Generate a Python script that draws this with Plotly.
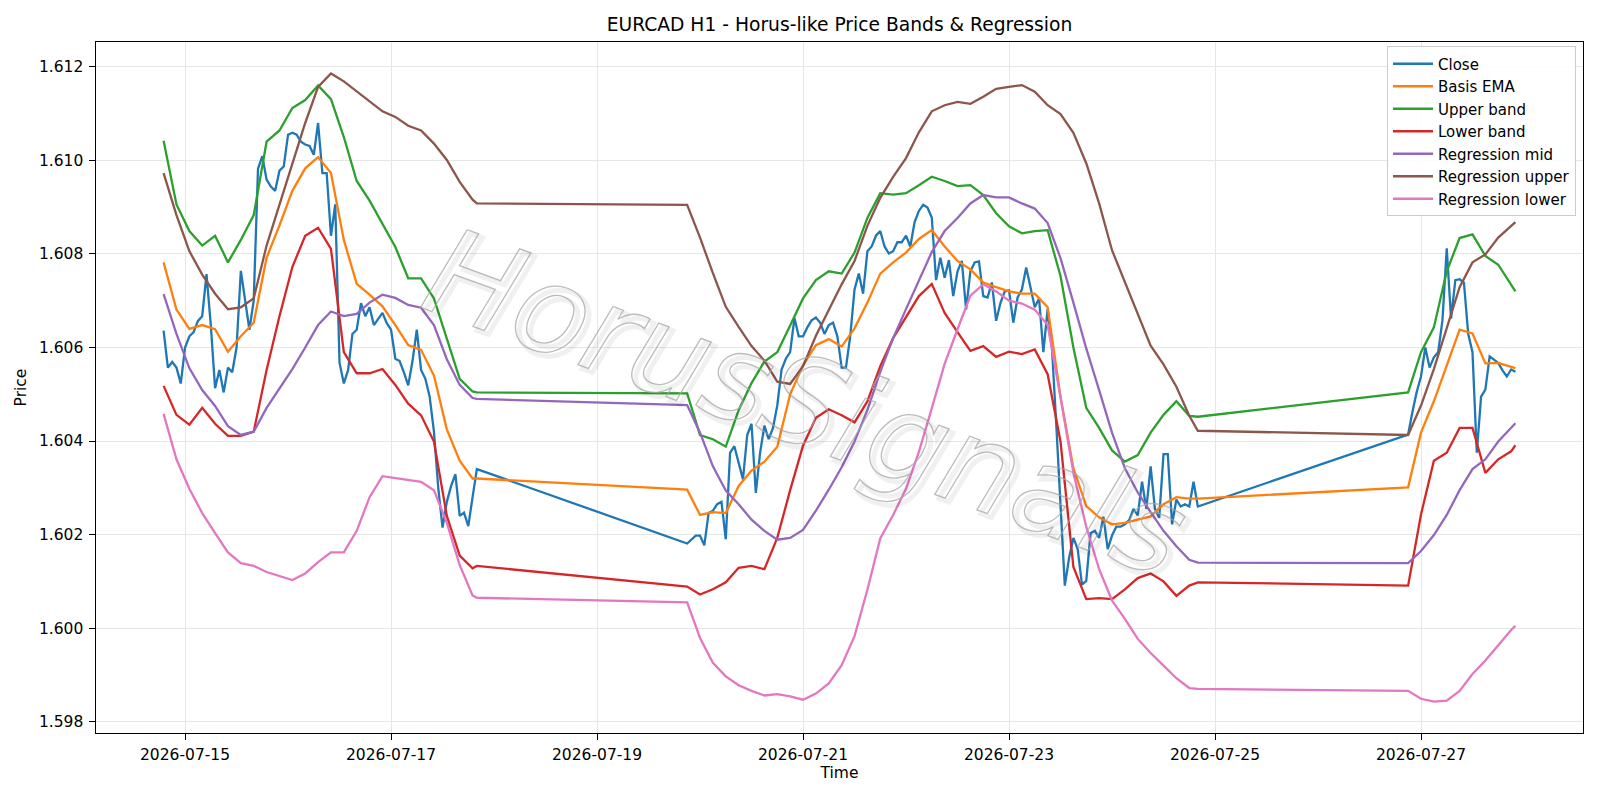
import pandas as pd
import plotly.graph_objects as go

# Trading sessions (hourly bars, weekend gaps between them)
SESSIONS = [("2026-07-14 19:00", "2026-07-17 20:00"),
            ("2026-07-19 21:00", "2026-07-24 20:00"),
            ("2026-07-26 21:00", "2026-07-27 22:00")]

# Hourly close prices (session 1, 2, 3 concatenated)
CLOSE = [
    # session 1
    1.60636, 1.60557, 1.60569, 1.60557, 1.60523, 1.60600, 1.60624, 1.60633, 1.60657, 1.60667,
    1.60757, 1.60648, 1.60513, 1.60552, 1.60504, 1.60557, 1.60547, 1.60600, 1.60764, 1.60695,
    1.60638, 1.60700, 1.60982, 1.61009, 1.60959, 1.60944, 1.60935, 1.60978, 1.60987, 1.61055,
    1.61059, 1.61055, 1.61040, 1.61034, 1.61031, 1.61012, 1.61080, 1.60973, 1.60973, 1.60839,
    1.60906, 1.60567, 1.60523, 1.60552, 1.60629, 1.60638, 1.60695, 1.60667, 1.60686, 1.60648,
    1.60662, 1.60674, 1.60652, 1.60638, 1.60576, 1.60571, 1.60547, 1.60519, 1.60571, 1.60638,
    1.60552, 1.60533, 1.60495, 1.60420, 1.60300, 1.60215, 1.60270, 1.60304, 1.60329, 1.60240,
    1.60247, 1.60218, 1.60280, 1.60340,
    # session 2
    1.60181, 1.60189, 1.60198, 1.60198, 1.60177, 1.60246, 1.60251, 1.60265, 1.60270, 1.60190,
    1.60375, 1.60389, 1.60351, 1.60318, 1.60413, 1.60437, 1.60289, 1.60375, 1.60433, 1.60404,
    1.60428, 1.60476, 1.60553, 1.60576, 1.60590, 1.60663, 1.60624, 1.60624, 1.60643, 1.60658,
    1.60664, 1.60653, 1.60629, 1.60648, 1.60653, 1.60624, 1.60557, 1.60557, 1.60624, 1.60724,
    1.60758, 1.60715, 1.60806, 1.60816, 1.60839, 1.60849, 1.60816, 1.60801, 1.60806, 1.60825,
    1.60825, 1.60839, 1.60816, 1.60868, 1.60892, 1.60905, 1.60899, 1.60878, 1.60744, 1.60792,
    1.60749, 1.60787, 1.60710, 1.60763, 1.60785, 1.60681, 1.60763, 1.60782, 1.60784, 1.60710,
    1.60707, 1.60739, 1.60657, 1.60695, 1.60720, 1.60722, 1.60653, 1.60707, 1.60724, 1.60771,
    1.60729, 1.60686, 1.60705, 1.60590, 1.60682, 1.60600, 1.60437, 1.60275, 1.60091, 1.60150,
    1.60193, 1.60169, 1.60093, 1.60101, 1.60203, 1.60208, 1.60193, 1.60238, 1.60169, 1.60198,
    1.60217, 1.60217, 1.60222, 1.60231, 1.60255, 1.60241, 1.60313, 1.60255, 1.60346, 1.60255,
    1.60236, 1.60372, 1.60372, 1.60222, 1.60275, 1.60260, 1.60265, 1.60260, 1.60313, 1.60260,
    # session 3
    1.60414, 1.60462, 1.60505, 1.60538, 1.60600, 1.60557, 1.60579, 1.60590, 1.60658, 1.60812,
    1.60662, 1.60744, 1.60746, 1.60739, 1.60629, 1.60590, 1.60375, 1.60495, 1.60510, 1.60581,
    1.60574, 1.60567, 1.60551, 1.60538, 1.60553, 1.60548,
]

# Indicator series, sampled every 3 hours within each session (plus session end)
BASIS_EMA = [
    1.60782, 1.60681, 1.60640, 1.60648, 1.60639, 1.60591, 1.60624, 1.60653, 1.60792, 1.60861,
    1.60935, 1.60983, 1.61007, 1.60973, 1.60830, 1.60736, 1.60713, 1.60688, 1.60648, 1.60605,
    1.60595, 1.60540, 1.60425, 1.60358, 1.60320, 1.60320,
    1.60296, 1.60242, 1.60248, 1.60246, 1.60304, 1.60337, 1.60356, 1.60388, 1.60500, 1.60562,
    1.60605, 1.60618, 1.60602, 1.60641, 1.60696, 1.60758, 1.60782, 1.60803, 1.60832, 1.60851,
    1.60816, 1.60785, 1.60767, 1.60739, 1.60729, 1.60720, 1.60715, 1.60715, 1.60686, 1.60495,
    1.60342, 1.60261, 1.60237, 1.60222, 1.60225, 1.60232, 1.60239, 1.60265, 1.60280, 1.60277,
    1.60277,
    1.60301, 1.60418, 1.60485, 1.60562, 1.60638, 1.60630, 1.60566, 1.60567, 1.60559, 1.60556,
]
UPPER_BAND = [
    1.61042, 1.60906, 1.60849, 1.60818, 1.60839, 1.60782, 1.60830, 1.60883, 1.61040, 1.61064,
    1.61112, 1.61129, 1.61160, 1.61131, 1.61050, 1.60956, 1.60914, 1.60866, 1.60815, 1.60748,
    1.60748, 1.60705, 1.60617, 1.60533, 1.60506, 1.60504,
    1.60502, 1.60413, 1.60404, 1.60388, 1.60466, 1.60524, 1.60570, 1.60590, 1.60647, 1.60705,
    1.60744, 1.60763, 1.60758, 1.60803, 1.60877, 1.60930, 1.60927, 1.60930, 1.60947, 1.60965,
    1.60956, 1.60945, 1.60947, 1.60926, 1.60887, 1.60859, 1.60844, 1.60849, 1.60851, 1.60753,
    1.60600, 1.60471, 1.60428, 1.60380, 1.60356, 1.60370, 1.60418, 1.60456, 1.60485, 1.60454,
    1.60452,
    1.60504, 1.60590, 1.60643, 1.60763, 1.60834, 1.60842, 1.60796, 1.60777, 1.60734, 1.60720,
]
LOWER_BAND = [
    1.60518, 1.60456, 1.60435, 1.60471, 1.60437, 1.60411, 1.60411, 1.60420, 1.60552, 1.60667,
    1.60772, 1.60839, 1.60856, 1.60811, 1.60590, 1.60545, 1.60545, 1.60554, 1.60520, 1.60480,
    1.60455, 1.60399, 1.60240, 1.60155, 1.60128, 1.60133,
    1.60089, 1.60072, 1.60083, 1.60098, 1.60129, 1.60133, 1.60126, 1.60193, 1.60295, 1.60390,
    1.60450, 1.60468, 1.60455, 1.60440, 1.60485, 1.60560, 1.60620, 1.60665, 1.60710, 1.60736,
    1.60674, 1.60633, 1.60593, 1.60603, 1.60580, 1.60591, 1.60586, 1.60596, 1.60543, 1.60399,
    1.60131, 1.60062, 1.60064, 1.60062, 1.60083, 1.60107, 1.60117, 1.60100, 1.60069, 1.60091,
    1.60098,
    1.60091, 1.60243, 1.60358, 1.60375, 1.60428, 1.60428, 1.60332, 1.60361, 1.60378, 1.60391,
]
REG_MID = [
    1.60714, 1.60629, 1.60556, 1.60509, 1.60475, 1.60432, 1.60413, 1.60420, 1.60471, 1.60512,
    1.60554, 1.60600, 1.60648, 1.60677, 1.60667, 1.60672, 1.60696, 1.60713, 1.60706, 1.60691,
    1.60685, 1.60648, 1.60575, 1.60520, 1.60492, 1.60490,
    1.60477, 1.60418, 1.60346, 1.60294, 1.60265, 1.60232, 1.60208, 1.60189, 1.60193, 1.60210,
    1.60251, 1.60296, 1.60344, 1.60399, 1.60466, 1.60548, 1.60620, 1.60682, 1.60744, 1.60804,
    1.60849, 1.60877, 1.60908, 1.60926, 1.60921, 1.60921, 1.60908, 1.60897, 1.60866, 1.60791,
    1.60696, 1.60598, 1.60509, 1.60418, 1.60342, 1.60290, 1.60248, 1.60208, 1.60175, 1.60146,
    1.60140,
    1.60139, 1.60165, 1.60199, 1.60242, 1.60295, 1.60340, 1.60361, 1.60399, 1.60428, 1.60438,
]
REG_UPPER = [
    1.60973, 1.60883, 1.60806, 1.60756, 1.60715, 1.60682, 1.60686, 1.60705, 1.60818, 1.60905,
    1.60997, 1.61080, 1.61157, 1.61186, 1.61169, 1.61147, 1.61126, 1.61105, 1.61093, 1.61074,
    1.61064, 1.61036, 1.61001, 1.60954, 1.60916, 1.60908,
    1.60905, 1.60835, 1.60759, 1.60687, 1.60644, 1.60603, 1.60572, 1.60527, 1.60522, 1.60560,
    1.60625, 1.60680, 1.60735, 1.60785, 1.60860, 1.60920, 1.60965, 1.61005, 1.61060, 1.61105,
    1.61118, 1.61125, 1.61121, 1.61136, 1.61153, 1.61157, 1.61161, 1.61147, 1.61118, 1.61099,
    1.61059, 1.60994, 1.60908, 1.60808, 1.60740, 1.60670, 1.60604, 1.60564, 1.60516, 1.60454,
    1.60422,
    1.60413, 1.60476, 1.60554, 1.60641, 1.60729, 1.60782, 1.60799, 1.60835, 1.60859, 1.60868,
]
REG_LOWER = [
    1.60458, 1.60361, 1.60298, 1.60246, 1.60203, 1.60162, 1.60139, 1.60133, 1.60120, 1.60112,
    1.60103, 1.60117, 1.60141, 1.60162, 1.60162, 1.60208, 1.60280, 1.60325, 1.60321, 1.60318,
    1.60313, 1.60295, 1.60225, 1.60135, 1.60070, 1.60065,
    1.60055, 1.59979, 1.59926, 1.59897, 1.59878, 1.59866, 1.59856, 1.59859, 1.59854, 1.59847,
    1.59860, 1.59882, 1.59921, 1.59983, 1.60082, 1.60192, 1.60242, 1.60298, 1.60377, 1.60470,
    1.60565, 1.60639, 1.60711, 1.60735, 1.60720, 1.60700, 1.60694, 1.60681, 1.60648, 1.60494,
    1.60332, 1.60217, 1.60126, 1.60059, 1.60020, 1.59977, 1.59947, 1.59920, 1.59893, 1.59872,
    1.59870,
    1.59866, 1.59849, 1.59843, 1.59845, 1.59866, 1.59902, 1.59931, 1.59964, 1.59996, 1.60005,
]

X_TICKS = ["2026-07-15", "2026-07-17", "2026-07-19", "2026-07-21",
           "2026-07-23", "2026-07-25", "2026-07-27"]

SERIES = [("Close", "#1f77b4"), ("Basis EMA", "#ff7f0e"), ("Upper band", "#2ca02c"),
          ("Lower band", "#d62728"), ("Regression mid", "#9467bd"),
          ("Regression upper", "#8c564b"), ("Regression lower", "#e377c2")]

WATERMARK = "HorusSignals"


def hourly_times(sessions):
    out = []
    for s, e in sessions:
        out.extend(pd.date_range(s, e, freq="h"))
    return out


def sampled_times(sessions, step="3h"):
    out = []
    for s, e in sessions:
        r = list(pd.date_range(s, e, freq=step))
        if r[-1] != pd.Timestamp(e):
            r.append(pd.Timestamp(e))
        out.extend(r)
    return out


t_close = hourly_times(SESSIONS)
t_ind = sampled_times(SESSIONS)
values = [CLOSE, BASIS_EMA, UPPER_BAND, LOWER_BAND, REG_MID, REG_UPPER, REG_LOWER]
times = [t_close] + [t_ind] * 6

FONT = "DejaVu Sans"
FS = 15.5
fig = go.Figure()
for (name, color), t, v in zip(SERIES, times, values):
    n = min(len(t), len(v))
    fig.add_trace(go.Scatter(x=t[:n], y=v[:n], mode="lines", name=name,
                             legendgroup=name,
                             line=dict(color=color, width=2.3)))

all_vals = [x for v in values for x in v]
lo, hi = min(all_vals), max(all_vals)
pad = (hi - lo) * 0.05
t0, t1 = t_close[0], t_close[-1]
tpad = (t1 - t0) * 0.05

axis_common = dict(showline=True, linecolor="black", linewidth=1.1, mirror=True,
                   ticks="outside", ticklen=5.5, tickwidth=1.1, tickcolor="black",
                   showgrid=True, gridcolor="#e6e6e6", gridwidth=1,
                   zeroline=False,
                   tickfont=dict(family=FONT, size=FS, color="black"))

fig.update_layout(
    width=1600, height=800,
    margin=dict(l=96, r=17, t=42, b=67),
    plot_bgcolor="white", paper_bgcolor="white",
    font=dict(family=FONT, size=FS, color="black"),
    title=dict(text="EURCAD H1 - Horus-like Price Bands & Regression",
               x=0.5, xref="paper", xanchor="center",
               y=1 - 24 / 800, yref="container", yanchor="middle",
               font=dict(family=FONT, size=18.7, color="black")),
    legend=dict(x=0.9953, y=0.9935, xanchor="right", yanchor="top",
                bgcolor="rgba(255,255,255,0.85)", bordercolor="#cccccc",
                borderwidth=1, tracegroupgap=0, itemwidth=40,
                font=dict(family=FONT, size=15, color="black")),
    showlegend=True,
)
fig.update_xaxes(range=[t0 - tpad, t1 + tpad], tickvals=X_TICKS,
                 tickformat="%Y-%m-%d", ticklabelstandoff=2,
                 title=dict(text="Time", standoff=2,
                            font=dict(family=FONT, size=FS, color="black")),
                 **axis_common)
fig.update_yaxes(range=[lo - pad, hi + pad], dtick=0.002, tick0=1.598,
                 tickformat=".3f", ticklabelstandoff=3,
                 title=dict(text="Price", standoff=8,
                            font=dict(family=FONT, size=FS, color="black")),
                 **axis_common)

# Watermark: soft shadow copy, then hollow outlined text on top
wm_font = dict(family=FONT, size=122, style="italic", color="rgba(0,0,0,0)")
fig.add_annotation(
    text=f'<span style="fill:none;stroke:rgba(0,0,0,0.06);stroke-width:5px">{WATERMARK}</span>',
    xref="paper", yref="paper", x=0.4775, y=0.478, xshift=4, yshift=-4,
    showarrow=False, textangle=20, font=wm_font)
fig.add_annotation(
    text=f'<span style="fill:rgba(255,255,255,0.3);stroke:rgba(165,165,165,0.75);stroke-width:1.3px">{WATERMARK}</span>',
    xref="paper", yref="paper", x=0.4775, y=0.478,
    showarrow=False, textangle=20, font=wm_font)

fig.write_html("out.html")
